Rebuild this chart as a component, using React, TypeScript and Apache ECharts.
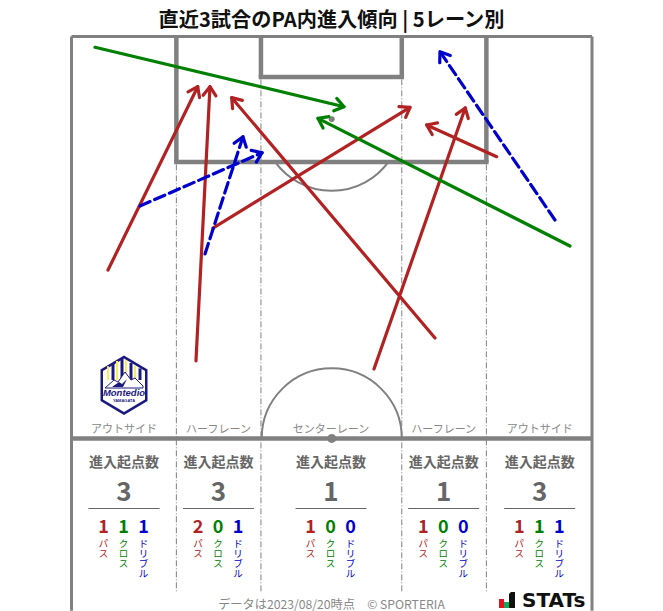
import React, { useEffect, useRef } from "react";
import * as echarts from "echarts";

// ---------- data (pitch metres: x across 0-68, y from goal line) ----------
const TITLE = "直近3試合のPA内進入傾向 | 5レーン別";
const FOOTER = "データは2023/08/20時点　© SPORTERIA";
const LANE_NAMES = ["アウトサイド", "ハーフレーン", "センターレーン", "ハーフレーン", "アウトサイド"];
const TOTALS = [3, 3, 1, 1, 3];
const PASS_COUNTS = [1, 2, 1, 1, 1];
const CROSS_COUNTS = [1, 0, 0, 0, 1];
const DRIBBLE_COUNTS = [1, 1, 0, 0, 1];
const HEADING = "進入起点数";

const passArrows = [
  [4.77, 30.5, 16.49, 6.56],
  [16.26, 42.39, 18.09, 6.56],
  [47.49, 39.39, 20.93, 7.99],
  [18.48, 25.02, 44.22, 9.25],
  [39.52, 43.44, 51.44, 9.34],
  [55.55, 15.7, 46.4, 11.56],
];
const crossArrows = [
  [3.07, 1.41, 35.6, 9.17],
  [65.12, 27.37, 32.2, 10.69],
];
const dribbleArrows = [
  [8.95, 22.14, 24.89, 15.18],
  [17.44, 28.41, 22.4, 13.09],
  [63.16, 23.97, 48.14, 1.99],
];

// ---------- layout ----------
const W = 663;
const H = 611;
const GRID = { left: 71.5, top: 36.5, width: 520.5, height: 574.125 };
const LANE_X = [124, 218.5, 331, 443.7, 539.7];
const GRAY = "#808080";
const RED = "#b22222";
const GREEN = "#008000";
const BLUE = "#0000cd";
const NAVY = "#1b1a7c";
const YELLOW = "#f5ee5a";
const FONT = '"Noto Sans CJK JP", "Noto Sans", sans-serif';

function lineEl(a: number[], b: number[], lineWidth: number, lineDash?: number[]) {
  return {
    type: "line",
    shape: { x1: a[0], y1: a[1], x2: b[0], y2: b[1] },
    style: { stroke: GRAY, lineWidth, lineDash, fill: "none" },
  };
}

function renderPitch(_p: any, api: any) {
  const c = (x: number, y: number) => api.coord([x, y]);
  const r = api.size([9.15, 0])[0];
  const pen = c(34, 11);
  const pb = c(13.7, 16.4);
  const spread = Math.asin((pb[1] - pen[1]) / r);
  const mid = c(34, 52.5);
  const dash = [6, 2, 1, 2];
  return {
    type: "group",
    children: [
      lineEl(c(0, 0), c(0, 75), 3),
      lineEl(c(68, 0), c(68, 75), 3),
      lineEl(c(0, 0), c(68, 0), 3),
      lineEl(c(0, 52.5), c(68, 52.5), 4.5),
      lineEl(c(13.7, 0), c(13.7, 16.4), 4.5),
      lineEl(c(54.2, 0), c(54.2, 16.4), 4.5),
      lineEl([c(13.7, 0)[0] - 2.25, pb[1]], [c(54.2, 0)[0] + 2.25, pb[1]], 4.5),
      lineEl(c(24.75, 0), c(24.75, 5.3), 4.5),
      lineEl(c(43.15, 0), c(43.15, 5.3), 4.5),
      lineEl([c(24.75, 0)[0] - 2.25, c(0, 5.3)[1]], [c(43.15, 0)[0] + 2.25, c(0, 5.3)[1]], 4.5),
      lineEl(c(13.7, 16.7), c(13.7, 72.5), 1, dash),
      lineEl(c(54.2, 16.7), c(54.2, 72.5), 1, dash),
      lineEl(c(24.75, 5.6), c(24.75, 72.5), 1, dash),
      lineEl(c(43.15, 5.6), c(43.15, 72.5), 1, dash),
      {
        type: "arc",
        shape: { cx: pen[0], cy: pen[1], r, startAngle: spread, endAngle: Math.PI - spread, clockwise: true },
        style: { stroke: GRAY, lineWidth: 2, fill: "none" },
      },
      {
        type: "arc",
        shape: { cx: mid[0], cy: mid[1], r, startAngle: Math.PI, endAngle: Math.PI * 2, clockwise: true },
        style: { stroke: GRAY, lineWidth: 2, fill: "none" },
      },
      { type: "circle", shape: { cx: mid[0], cy: mid[1], r: 4.5 }, style: { fill: GRAY } },
      { type: "circle", shape: { cx: pen[0], cy: pen[1] - 1.5, r: 3 }, style: { fill: GRAY } },
    ],
  };
}

function arrowRenderer(color: string, lineDash?: number[]) {
  return (_p: any, api: any) => {
    const a = api.coord([api.value(0), api.value(1)]);
    const b = api.coord([api.value(2), api.value(3)]);
    const ang = Math.atan2(b[1] - a[1], b[0] - a[0]);
    const len = 11;
    const spread = 0.62;
    const p1 = [b[0] - len * Math.cos(ang - spread), b[1] - len * Math.sin(ang - spread)];
    const p2 = [b[0] - len * Math.cos(ang + spread), b[1] - len * Math.sin(ang + spread)];
    return {
      type: "group",
      children: [
        {
          type: "line",
          shape: { x1: a[0], y1: a[1], x2: b[0], y2: b[1] },
          style: { stroke: color, lineWidth: 3.2, lineDash, lineCap: "round", fill: "none" },
        },
        {
          type: "polyline",
          shape: { points: [p1, b, p2] },
          style: { stroke: color, lineWidth: 3.2, lineCap: "round", lineJoin: "round", fill: "none" },
        },
      ],
    };
  };
}

function textEl(text: string, x: number, y: number, fontSize: number, fill: string, fontWeight: any = "normal", extra: any = {}) {
  return {
    type: "text",
    x,
    y,
    silent: true,
    style: { text, fontSize, fill, fontWeight, fontFamily: FONT, align: "center", verticalAlign: "middle", ...extra },
  };
}

function laneGraphics() {
  const out: any[] = [];
  LANE_NAMES.forEach((name, i) => {
    const x = LANE_X[i];
    out.push(textEl(name, x, 428, 11, "#888888"));
    out.push(textEl(HEADING, x, 461, 14, "#666666", "bold"));
    out.push(textEl(String(TOTALS[i]), x, 489.5, 26, "#666666", "bold"));
    out.push({
      type: "line",
      shape: { x1: x - 35.5, y1: 508.5, x2: x + 35.5, y2: 508.5 },
      style: { stroke: "#666666", lineWidth: 1 },
    });
    const cols: [number, string, string][] = [
      [PASS_COUNTS[i], "パ\nス", RED],
      [CROSS_COUNTS[i], "ク\nロ\nス", GREEN],
      [DRIBBLE_COUNTS[i], "ド\nリ\nブ\nル", BLUE],
    ];
    cols.forEach(([n, label, color], j) => {
      const cx = x + (j - 1) * 20 - 0.5;
      out.push(textEl(String(n), cx, 524.5, 18, color, "bold"));
      out.push(
        textEl(label, cx, 538, 9.5, color, "normal", { verticalAlign: "top", lineHeight: 10 })
      );
    });
  });
  return out;
}

function logoGraphics() {
  const hex = [[124, 355.5], [147.5, 369.5], [147.5, 401], [124, 415], [100.5, 401], [100.5, 369.5]];
  const inner = [[124, 358.5], [145, 371], [145, 399.5], [124, 412], [103, 399.5], [103, 371]];
  const stripes: any[] = [];
  const xs = [108.5, 113, 117.5, 122, 126.5, 131, 135.5, 140];
  xs.forEach((sx, i) => {
    const topY = 370.5 - (Math.min(sx + 1.5, 248 - sx - 1.5) - 103) * 0.6;
    stripes.push({
      type: "rect",
      shape: { x: sx - 1.5, y: topY, width: i % 2 === 0 ? 2 : 3, height: 380 - topY },
      style: { fill: i % 2 === 0 ? YELLOW : NAVY },
    });
  });
  return [
    { type: "polygon", shape: { points: hex }, style: { fill: NAVY } },
    { type: "polygon", shape: { points: inner }, style: { fill: "#ffffff" } },
    ...stripes,
    {
      type: "polygon",
      shape: { points: [[105, 388], [114, 380], [118, 382], [125, 372], [131, 380], [135, 378], [143, 386], [143, 388]] },
      style: { fill: "#ffffff", stroke: NAVY, lineWidth: 1 },
    },
    {
      type: "polygon",
      shape: { points: [[112, 387], [119, 382], [122, 384], [127, 379], [123, 387]] },
      style: { fill: NAVY },
    },
    textEl("Montedio", 124, 392.5, 9.5, NAVY, "bold", { fontStyle: "italic", fontFamily: '"Liberation Sans", sans-serif' }),
    textEl("YAMAGATA", 124, 400, 4, NAVY, "bold", { fontFamily: '"Liberation Sans", sans-serif' }),
  ];
}

function statsGraphics() {
  return [
    { type: "rect", shape: { x: 499, y: 599, width: 5, height: 9 }, style: { fill: "#e0141e" } },
    { type: "rect", shape: { x: 504, y: 602, width: 5, height: 6 }, style: { fill: "#0fa958" } },
    { type: "polygon", shape: { points: [[509, 608], [515, 608], [515, 592], [511, 592], [509, 594]] }, style: { fill: "#111111" } },
    {
      type: "text",
      x: 522,
      y: 599.5,
      style: {
        text: "STATs",
        fontSize: 20,
        fontWeight: "bold",
        fill: "#111111",
        fontFamily: '"DejaVu Sans", sans-serif',
        align: "left",
        verticalAlign: "middle",
      },
    },
  ];
}

export default function App() {
  const ref = useRef<HTMLDivElement>(null);
  useEffect(() => {
    if (!ref.current) return;
    const chart = echarts.init(ref.current, undefined, { renderer: "svg" });
    chart.setOption({
      animation: false,
      backgroundColor: "#ffffff",
      title: {
        text: TITLE,
        left: "center",
        top: 3,
        textStyle: { fontSize: 20.2, fontWeight: "bold", color: "#111111", fontFamily: FONT },
      },
      grid: { ...GRID, containLabel: false },
      xAxis: { type: "value", min: 0, max: 68, show: false },
      yAxis: { type: "value", min: 0, max: 75, inverse: true, show: false },
      graphic: [
        ...laneGraphics(),
        ...logoGraphics(),
        ...statsGraphics(),
        textEl(FOOTER, 331.5, 603.5, 12.2, "#888888"),
      ],
      series: [
        { type: "custom", name: "pitch", clip: false, silent: true, coordinateSystem: "cartesian2d", data: [[0, 0]], renderItem: renderPitch, z: 1 },
        { type: "custom", name: "パス", clip: false, silent: true, data: passArrows, encode: { x: [0, 2], y: [1, 3] }, renderItem: arrowRenderer(RED), z: 2 },
        { type: "custom", name: "クロス", clip: false, silent: true, data: crossArrows, encode: { x: [0, 2], y: [1, 3] }, renderItem: arrowRenderer(GREEN), z: 3 },
        { type: "custom", name: "ドリブル", clip: false, silent: true, data: dribbleArrows, encode: { x: [0, 2], y: [1, 3] }, renderItem: arrowRenderer(BLUE, [11, 5]), z: 4 },
      ],
    });
    return () => chart.dispose();
  }, []);
  return <div ref={ref} style={{ position: "absolute", left: 0, top: 0, width: W, height: H }} />;
}
